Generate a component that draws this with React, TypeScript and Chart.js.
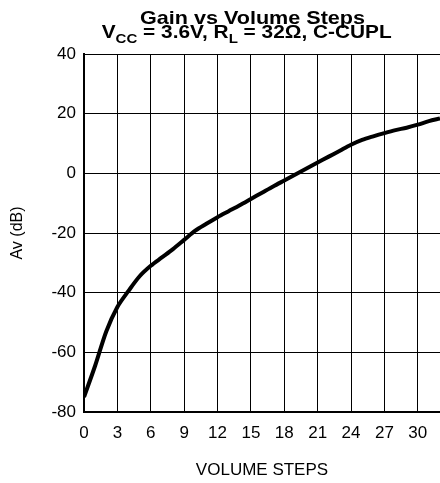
import React, { useEffect, useRef } from "react";
import { Chart, registerables } from "chart.js";

Chart.register(...registerables);

// ---- data ----
const steps = [0, 1, 2, 3, 4, 5, 6, 7, 8, 9, 10, 11, 12, 13, 14, 15, 16, 17, 18, 19, 20, 21, 22, 23, 24, 25, 26, 27, 28, 29, 30, 31, 32];
const gainDb = [-75, -64.5, -53, -44.8, -39.4, -34.5, -31, -28.2, -25.4, -22.3, -19.2, -16.9, -14.7, -12.7, -10.7, -8.6, -6.5, -4.4, -2.4, -0.4, 1.6, 3.6, 5.6, 7.6, 9.6, 11.2, 12.4, 13.5, 14.5, 15.3, 16.3, 17.5, 18.4];
const xTicks = [0, 3, 6, 9, 12, 15, 18, 21, 24, 27, 30];
const yTicks = [-80, -60, -40, -20, 0, 20, 40];

const titleLine1 = "Gain vs Volume Steps";
const titleLine2: [string, boolean][] = [
  ["V", false],
  ["CC", true],
  [" = 3.6V, R", false],
  ["L", true],
  [" = 32Ω, C-CUPL", false],
];
const xLabel = "VOLUME STEPS";
const yLabel = "Av (dB)";

const FONT = "'Liberation Sans', Arial, Helvetica, sans-serif";

const titlePlugin = {
  id: "customTitle",
  afterDraw(chart: any) {
    const ctx: CanvasRenderingContext2D = chart.ctx;
    ctx.save();
    ctx.fillStyle = "#000";
    ctx.textBaseline = "alphabetic";
    // line 1
    ctx.font = `bold 19px ${FONT}`;
    const w1 = ctx.measureText(titleLine1).width;
    const s1 = 225 / w1;
    ctx.save();
    ctx.translate(252.5, 23.5);
    ctx.scale(s1, 1);
    ctx.textAlign = "center";
    ctx.fillText(titleLine1, 0, 0);
    ctx.restore();

    // line 2 with subscripts
    const mainFont = `bold 18px ${FONT}`;
    const subFont = `bold 13px ${FONT}`;
    let total = 0;
    const widths = titleLine2.map(([t, sub]) => {
      ctx.font = sub ? subFont : mainFont;
      const w = ctx.measureText(t).width;
      total += w;
      return w;
    });
    const s2 = 290 / total;
    ctx.save();
    ctx.translate(246.7, 38);
    ctx.scale(s2, 1);
    ctx.textAlign = "left";
    let x = -total / 2;
    titleLine2.forEach(([t, sub], i) => {
      ctx.font = sub ? subFont : mainFont;
      ctx.fillText(t, x, sub ? 4.5 : 0);
      x += widths[i];
    });
    ctx.restore();
    ctx.restore();
  },
};

export default function App() {
  const ref = useRef<HTMLCanvasElement | null>(null);
  useEffect(() => {
    if (!ref.current) return;
    const chart = new Chart(ref.current, {
      type: "line",
      data: {
        datasets: [
          {
            data: steps.map((s, i) => ({ x: s, y: gainDb[i] })),
            borderColor: "#000",
            borderWidth: 4,
            pointRadius: 0,
            tension: 0.3,
            fill: false,
          },
        ],
      },
      options: {
        animation: false,
        responsive: false,
        layout: { padding: { top: 54, right: 0, bottom: 0, left: 0 } },
        plugins: { legend: { display: false }, tooltip: { enabled: false }, title: { display: false } },
        scales: {
          x: {
            type: "linear",
            min: 0,
            max: 32,
            afterBuildTicks: (s: any) => {
              s.ticks = xTicks.map((v) => ({ value: v }));
            },
            afterFit: (s: any) => {
              s.height = 71;
            },
            grid: { color: "#000", lineWidth: 1, drawTicks: false },
            border: { color: "#000", width: 2 },
            ticks: {
              padding: 11,
              color: "#000",
              autoSkip: false,
              maxRotation: 0,
              font: { family: FONT, size: 17 },
            },
            title: {
              display: true,
              text: xLabel,
              color: "#000",
              font: { family: FONT, size: 17 },
              padding: { top: 0, bottom: 2 },
            },
          },
          y: {
            type: "linear",
            min: -80,
            max: 40,
            afterBuildTicks: (s: any) => {
              s.ticks = yTicks.map((v) => ({ value: v }));
            },
            afterFit: (s: any) => {
              s.width = 84;
            },
            grid: { color: "#000", lineWidth: 1, drawTicks: false },
            border: { color: "#000", width: 2 },
            ticks: {
              padding: 8,
              color: "#000",
              autoSkip: false,
              font: { family: FONT, size: 17 },
            },
            title: {
              display: true,
              text: yLabel,
              color: "#000",
              font: { family: FONT, size: 16 },
              padding: { top: 8, bottom: 0 },
            },
          },
        },
      },
      plugins: [titlePlugin],
    } as any);
    return () => chart.destroy();
  }, []);
  return (
    <div style={{ position: "fixed", left: 0, top: 0, width: 440, height: 483, background: "#fff" }}>
      <canvas ref={ref} width={440} height={483} style={{ width: 440, height: 483, display: "block" }} />
    </div>
  );
}
